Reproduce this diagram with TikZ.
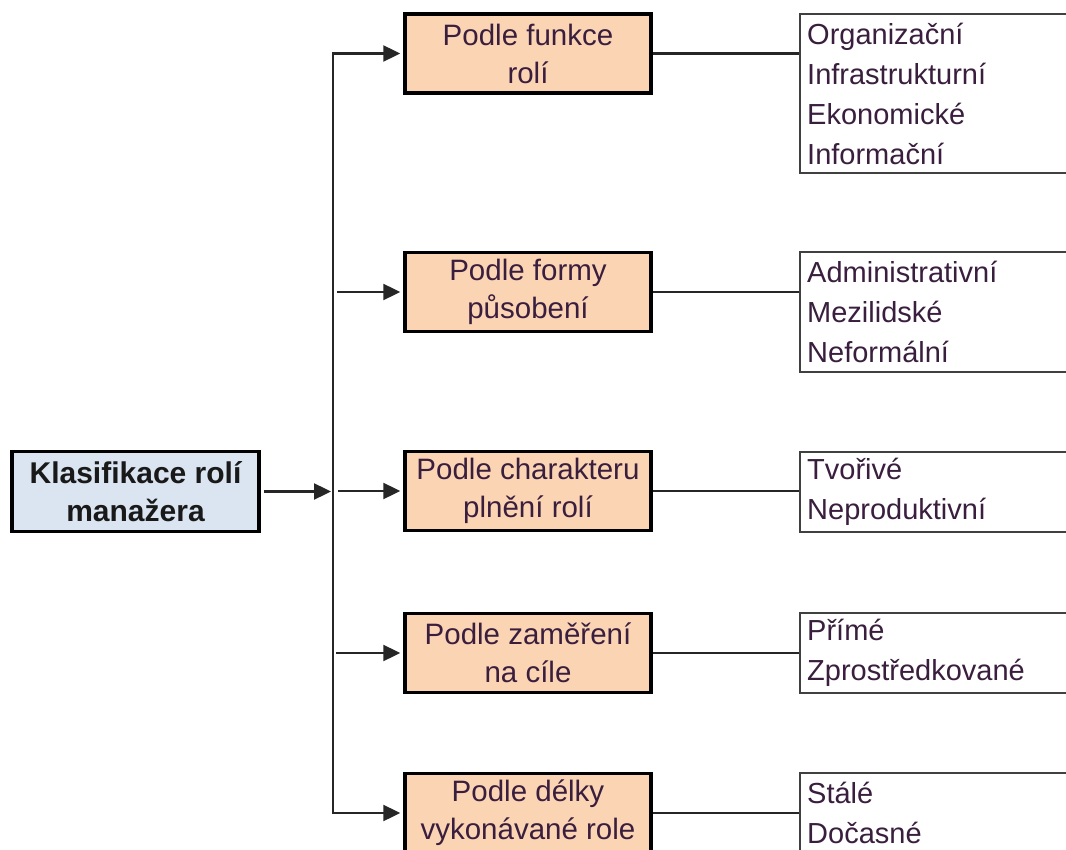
\documentclass[tikz,border=0pt]{standalone}
\usepackage{fontspec}
\setmainfont{Liberation Sans}
\usetikzlibrary{arrows.meta}
\definecolor{orangefill}{HTML}{FBD4B4}
\definecolor{bluefill}{HTML}{DBE5F1}
\definecolor{txt}{HTML}{3A1E3E}
\begin{document}
\begin{tikzpicture}[x=1pt,y=-1pt,
  mainbox/.style={draw=black, line width=3.5pt, fill=bluefill, minimum width=247pt, minimum height=80pt, align=center, inner sep=0pt, font=\bfseries\fontsize{30}{38}\selectfont, text=black!90},
  catbox/.style={draw=black, line width=3.5pt, fill=orangefill, minimum width=246pt, minimum height=79pt, align=center, inner sep=0pt, font=\fontsize{29.5}{38}\selectfont, text=txt},
  itembox/.style={draw=black!75, line width=2.4pt, fill=white, anchor=west, text width=290pt, align=left, inner xsep=7pt, inner ysep=0pt, font=\fontsize{29}{40}\selectfont, text=txt},
  conn/.style={line width=2.4pt, draw=black!85},
  arr/.style={conn, -{Triangle[length=17pt,width=16pt]}, shorten >=3pt}]
\clip (0,0) rectangle (1066,850);
\fill[white] (0,0) rectangle (1066,850);
% root
\node[mainbox] (root) at (135.5,491.5) {Klasifikace rolí\\manažera};
% categories
\node[catbox] (c1) at (528,53.5) {Podle funkce\\rolí};
\node[catbox] (c2) at (528,292) {Podle formy\\působení};
\node[catbox] (c3) at (528,491) {Podle charakteru\\plnění rolí};
\node[catbox] (c4) at (528,653) {Podle zaměření\\na cíle};
\node[catbox] (c5) at (528,813) {Podle délky\\vykonávané role};
% items
\node[itembox, minimum height=159pt] (i1) at (799,93.5) {Organizační\\Infrastrukturní\\Ekonomické\\Informační};
\node[itembox, minimum height=120pt] (i2) at (799,312) {Administrativní\\Mezilidské\\Neformální};
\node[itembox, minimum height=80pt] (i3) at (799,492) {Tvořivé\\Neproduktivní};
\node[itembox, minimum height=80pt] (i4) at (799,653) {Přímé\\Zprostředkované};
\node[itembox, minimum height=80pt] (i5) at (799,813) {Stálé\\Dočasné};
% bus
\coordinate (b1) at (333,53.5);
\coordinate (b5) at (333,813);
\draw[conn, line cap=rect] (b1) -- (b5);
\draw[arr, shorten <=3pt, shorten >=2pt] (root.east) -- (root.east -| b1);
\draw[arr] (b1) -- (c1.west);
\draw[arr, shorten <=4pt] (c2.west -| b1) -- (c2.west);
\draw[arr, shorten <=5pt] (c3.west -| b1) -- (c3.west);
\draw[arr, shorten <=3pt] (c4.west -| b1) -- (c4.west);
\draw[arr] (b5) -- (c5.west);
% category to items
\draw[conn] (c1.east) -- (c1.east -| i1.west);
\draw[conn] (c2.east) -- (c2.east -| i2.west);
\draw[conn] (c3.east) -- (c3.east -| i3.west);
\draw[conn] (c4.east) -- (c4.east -| i4.west);
\draw[conn] (c5.east) -- (c5.east -| i5.west);
\end{tikzpicture}
\end{document}
